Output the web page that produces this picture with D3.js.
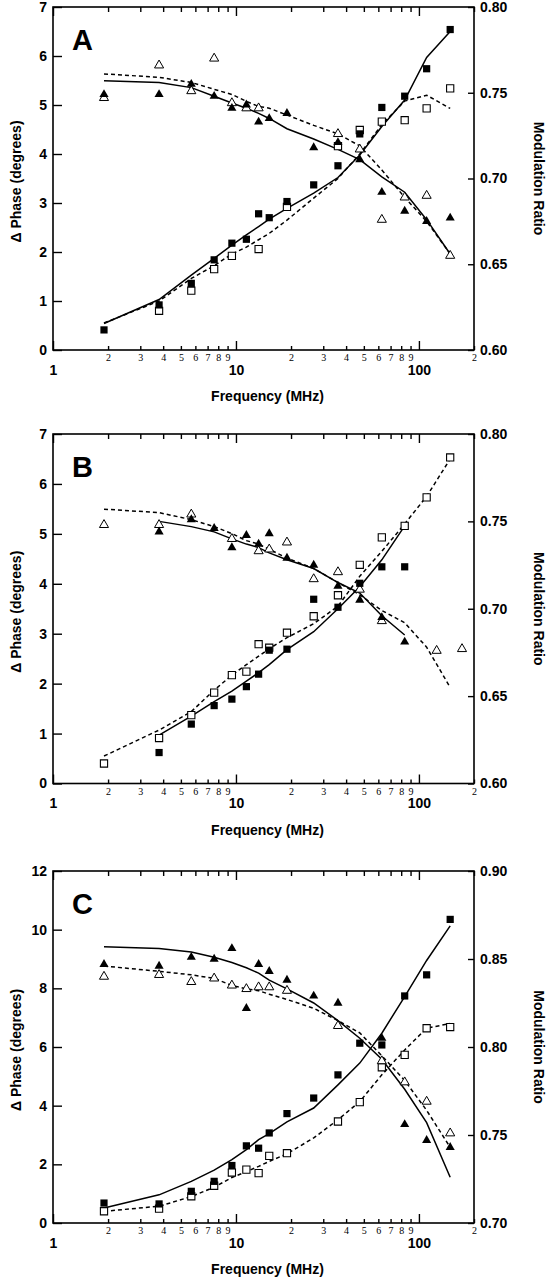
<!DOCTYPE html>
<html>
<head>
<meta charset="utf-8">
<script src="https://cdn.jsdelivr.net/npm/d3@7"></script>
<style>
  html, body { margin: 0; padding: 0; background: #fff; }
  svg { display: block; }
  .tk text { font-family: "Liberation Sans", Arial, sans-serif; font-weight: bold; font-size: 14px; fill: #000; }
  .minor text { font-family: "Liberation Serif", "Times New Roman", serif; font-size: 10px; font-weight: normal; fill: #000; }
  .title { font-family: "Liberation Sans", Arial, sans-serif; font-weight: bold; font-size: 14px; fill: #000; }
  .letter { font-family: "Liberation Sans", Arial, sans-serif; font-weight: bold; font-size: 29px; fill: #000; }
</style>
</head>
<body>
<svg id="chart" width="550" height="1280"></svg>
<script>
// ---------- data ----------
const freqs = [1.9, 3.8, 5.7, 7.6, 9.5, 11.4, 13.3, 15.2, 19, 26.6, 36.1, 47.5, 62.7, 83.6, 110.2, 148.2];

const majorFreqTicks = [1, 10, 100];
const minorFreqTicks = [2, 3, 4, 5, 6, 7, 8, 9, 20, 30, 40, 50, 60, 70, 80, 90, 200];
const minorFreqLabels = ["2", "3", "4", "5", "6", "7", "8", "9", "2", "3", "4", "5", "6", "7", "8", "9", "2"];

// Panel A
const aPhaseFilled = [0.41, 0.92, 1.36, 1.84, 2.18, 2.26, 2.78, 2.70, 3.03, 3.37, 3.76, 4.41, 4.95, 5.18, 5.74, 6.54];
const aPhaseOpen   = [null, 0.80, 1.21, 1.65, 1.92, null, 2.06, null, 2.92, null, 4.16, 4.49, 4.66, 4.69, 4.93, 5.34];
const aModFilled   = [0.749, 0.749, 0.755, 0.748, 0.741, 0.743, 0.733, 0.735, 0.738, 0.718, 0.721, 0.711, 0.692, 0.681, 0.675, 0.677];
const aModOpen     = [0.747, 0.766, 0.751, 0.770, 0.744, 0.741, 0.741, null, null, null, 0.726, 0.717, 0.676, 0.689, 0.690, 0.655];
const aPhaseSolid  = [0.54, 1.03, 1.53, 1.87, 2.14, 2.35, 2.52, 2.67, 2.89, 3.20, 3.52, 3.98, 4.56, 5.10, 5.97, 6.50];
const aPhaseDashed = [0.55, 1.00, 1.46, 1.72, 1.96, 2.10, 2.25, 2.38, 2.65, 3.10, 3.50, 4.00, 4.60, 5.08, 5.20, 4.93];
const aModSolid    = [0.757, 0.756, 0.753, 0.748, 0.744, 0.741, 0.738, 0.735, 0.729, 0.723, 0.717, 0.711, 0.701, 0.692, 0.676, 0.656];
const aModDashed   = [0.761, 0.759, 0.756, 0.752, 0.749, 0.745, 0.742, 0.741, 0.737, 0.731, 0.726, 0.719, 0.705, 0.689, 0.675, 0.656];

// Panel B
const bPhaseFilled = [null, 0.62, 1.19, 1.56, 1.69, 1.94, 2.19, 2.67, 2.69, 3.69, 3.53, 4.01, 4.34, 4.34, null, null];
const bPhaseOpen   = [0.40, 0.91, 1.37, 1.82, 2.17, 2.24, 2.79, 2.72, 3.02, 3.35, 3.77, 4.38, 4.93, 5.16, 5.73, 6.53];
const bModFilled   = [null, 0.744, 0.751, 0.746, 0.735, 0.742, 0.737, 0.743, 0.729, 0.725, 0.713, 0.705, 0.695, 0.681, null, null];
const bModOpen     = [0.748, 0.748, 0.754, null, 0.740, null, 0.733, 0.734, 0.738, 0.717, 0.721, 0.711, 0.693, null, null, null];
const bModOpenHighFreqs = [125, 172];
const bModOpenHigh = [0.676, 0.677];
const bPhaseSolid  = [null, 0.97, 1.35, 1.64, 1.85, 2.05, 2.22, 2.38, 2.68, 3.04, 3.50, 3.94, 4.48, 5.16, null, null];
const bPhaseDashed = [0.55, 1.07, 1.44, 1.87, 2.17, 2.38, 2.55, 2.70, 2.92, 3.20, 3.55, 4.15, 4.65, 5.20, 5.75, 6.50];
const bModSolid    = [null, 0.750, 0.747, 0.744, 0.740, 0.737, 0.735, 0.732, 0.728, 0.723, 0.715, 0.709, 0.696, 0.685, null, null];
const bModDashed   = [0.757, 0.755, 0.751, 0.747, 0.743, 0.739, 0.737, 0.734, 0.729, 0.723, 0.715, 0.708, 0.699, 0.692, 0.678, 0.655];

// Panel C
const cPhaseFilled = [0.68, 0.65, 1.08, 1.42, 1.96, 2.63, 2.55, 3.07, 3.73, 4.26, 5.05, 6.13, 6.07, 7.74, 8.46, 10.35];
const cPhaseOpen   = [0.40, 0.49, 0.91, 1.27, 1.72, 1.82, 1.70, 2.29, 2.38, null, 3.46, 4.12, 5.31, 5.73, 6.64, 6.68];
const cModFilled   = [0.847, 0.846, 0.851, 0.850, 0.856, 0.822, 0.847, 0.843, 0.838, 0.829, 0.825, null, 0.805, 0.756, 0.747, 0.743];
const cModOpen     = [0.840, 0.841, 0.837, 0.839, 0.835, 0.833, 0.834, 0.834, 0.832, null, 0.812, null, 0.792, 0.780, 0.769, 0.751];
const cPhaseSolid  = [0.51, 0.96, 1.42, 1.80, 2.16, 2.50, 2.84, 3.05, 3.45, 3.92, 4.71, 5.45, 6.47, 7.72, 8.95, 10.13];
const cPhaseDashed = [0.40, 0.57, 0.90, 1.22, 1.55, 1.75, 1.93, 2.10, 2.36, 2.90, 3.52, 4.14, 5.05, 5.90, 6.64, 6.80];
const cModSolid    = [0.857, 0.856, 0.854, 0.851, 0.848, 0.845, 0.842, 0.838, 0.833, 0.825, 0.815, 0.805, 0.793, 0.776, 0.757, 0.726];
const cModDashed   = [0.846, 0.843, 0.841, 0.839, 0.835, 0.833, 0.832, 0.830, 0.827, 0.822, 0.815, 0.808, 0.795, 0.781, 0.764, 0.743];

const phaseTicksAB = [0, 1, 2, 3, 4, 5, 6, 7];
const phaseTicksC = [0, 2, 4, 6, 8, 10, 12];
const modTicksAB = [0.60, 0.65, 0.70, 0.75, 0.80];
const modTicksC = [0.70, 0.75, 0.80, 0.85, 0.90];

// ---------- drawing ----------
const svg = d3.select("#chart");
const X0 = 53, X1 = 474;
const x = d3.scaleLog().domain([1, 200]).range([X0, X1]);

const panels = [
  { letter: "A", top: 7, bottom: 350, phaseDom: [0, 7], modDom: [0.60, 0.80], phaseTicks: phaseTicksAB, modTicks: modTicksAB,
    pF: aPhaseFilled, pO: aPhaseOpen, mF: aModFilled, mO: aModOpen, pS: aPhaseSolid, pD: aPhaseDashed, mS: aModSolid, mD: aModDashed },
  { letter: "B", top: 434, bottom: 783.5, phaseDom: [0, 7], modDom: [0.60, 0.80], phaseTicks: phaseTicksAB, modTicks: modTicksAB,
    pF: bPhaseFilled, pO: bPhaseOpen, mF: bModFilled, mO: bModOpen, pS: bPhaseSolid, pD: bPhaseDashed, mS: bModSolid, mD: bModDashed,
    extraOpenF: bModOpenHighFreqs, extraOpenV: bModOpenHigh },
  { letter: "C", top: 871, bottom: 1223, phaseDom: [0, 12], modDom: [0.70, 0.90], phaseTicks: phaseTicksC, modTicks: modTicksC,
    pF: cPhaseFilled, pO: cPhaseOpen, mF: cModFilled, mO: cModOpen, pS: cPhaseSolid, pD: cPhaseDashed, mS: cModSolid, mD: cModDashed }
];

const sq = d3.symbol().type(d3.symbolSquare).size(52);
const tri = d3.symbol().type(d3.symbolTriangle).size(36);

panels.forEach(p => {
  const g = svg.append("g");
  const yL = d3.scaleLinear().domain(p.phaseDom).range([p.bottom, p.top]);
  const yR = d3.scaleLinear().domain(p.modDom).range([p.bottom, p.top]);

  g.append("g").attr("class", "minor").attr("transform", `translate(0,${p.bottom})`)
    .call(d3.axisBottom(x).tickValues(minorFreqTicks).tickSize(-4).tickPadding(4)
      .tickFormat((d, i) => minorFreqLabels[i]))
    .call(s => s.select(".domain").remove());
  g.append("g").attr("class", "tk").attr("transform", `translate(0,${p.bottom})`)
    .call(d3.axisBottom(x).tickValues(majorFreqTicks).tickSize(-9).tickPadding(15)
      .tickFormat(d3.format("d")))
    .call(s => s.select(".domain").remove());
  g.append("g").attr("transform", `translate(0,${p.top})`)
    .call(d3.axisTop(x).tickValues(minorFreqTicks).tickSize(-5).tickFormat(""))
    .call(s => s.select(".domain").remove());
  g.append("g").attr("transform", `translate(0,${p.top})`)
    .call(d3.axisTop(x).tickValues(majorFreqTicks).tickSize(-9).tickFormat(""))
    .call(s => s.select(".domain").remove());
  g.append("g").attr("class", "tk").attr("transform", `translate(${X0},0)`)
    .call(d3.axisLeft(yL).tickValues(p.phaseTicks).tickSize(-9).tickPadding(6).tickFormat(d3.format("d")))
    .call(s => s.select(".domain").remove());
  g.append("g").attr("class", "tk").attr("transform", `translate(${X1},0)`)
    .call(d3.axisRight(yR).tickValues(p.modTicks).tickSize(-6).tickPadding(6).tickFormat(d3.format(".2f")))
    .call(s => s.select(".domain").remove());
  g.selectAll(".tick line").attr("stroke", "#000").attr("stroke-width", 1.4);

  g.append("rect").attr("x", X0).attr("y", p.top).attr("width", X1 - X0).attr("height", p.bottom - p.top)
    .attr("fill", "none").attr("stroke", "#000").attr("stroke-width", 1.6);

  g.append("text").attr("class", "title").attr("text-anchor", "middle")
    .attr("x", (X0 + X1) / 2 + 4).attr("y", p.bottom + 51).text("Frequency (MHz)");
  g.append("text").attr("class", "title").attr("text-anchor", "middle")
    .attr("transform", `translate(21,${(p.top + p.bottom) / 2 + 3}) rotate(-90)`).text("\u0394 Phase (degrees)");
  g.append("text").attr("class", "title").attr("text-anchor", "middle")
    .attr("transform", `translate(534,${(p.top + p.bottom) / 2}) rotate(90)`).text("Modulation Ratio");
  g.append("text").attr("class", "letter").attr("x", 72).attr("y", p.top + 43).text(p.letter);

  const mk = (arr) => freqs.map((f, i) => [f, arr[i]]);
  const lineL = d3.line().defined(d => d[1] != null).x(d => x(d[0])).y(d => yL(d[1]));
  const lineR = d3.line().defined(d => d[1] != null).x(d => x(d[0])).y(d => yR(d[1]));
  g.append("path").attr("d", lineL(mk(p.pS))).attr("fill", "none").attr("stroke", "#000").attr("stroke-width", 1.5);
  g.append("path").attr("d", lineL(mk(p.pD))).attr("fill", "none").attr("stroke", "#000").attr("stroke-width", 1.5).attr("stroke-dasharray", "4,3");
  g.append("path").attr("d", lineR(mk(p.mS))).attr("fill", "none").attr("stroke", "#000").attr("stroke-width", 1.5);
  g.append("path").attr("d", lineR(mk(p.mD))).attr("fill", "none").attr("stroke", "#000").attr("stroke-width", 1.5).attr("stroke-dasharray", "4,3");

  const pts = (arr) => freqs.map((f, i) => [f, arr[i]]).filter(d => d[1] != null);
  let openTri = pts(p.mO);
  if (p.extraOpenF) openTri = openTri.concat(p.extraOpenF.map((f, i) => [f, p.extraOpenV[i]]));

  g.selectAll(null).data(pts(p.pO)).join("path").attr("d", sq)
    .attr("transform", d => `translate(${x(d[0])},${yL(d[1])})`)
    .attr("fill", "#fff").attr("stroke", "#000").attr("stroke-width", 1.1);
  g.selectAll(null).data(openTri).join("path").attr("d", tri)
    .attr("transform", d => `translate(${x(d[0])},${yR(d[1])})`)
    .attr("fill", "#fff").attr("stroke", "#000").attr("stroke-width", 1);
  g.selectAll(null).data(pts(p.pF)).join("path").attr("d", sq)
    .attr("transform", d => `translate(${x(d[0])},${yL(d[1])})`)
    .attr("fill", "#000");
  g.selectAll(null).data(pts(p.mF)).join("path").attr("d", tri)
    .attr("transform", d => `translate(${x(d[0])},${yR(d[1])})`)
    .attr("fill", "#000");
});
</script>
</body>
</html>
